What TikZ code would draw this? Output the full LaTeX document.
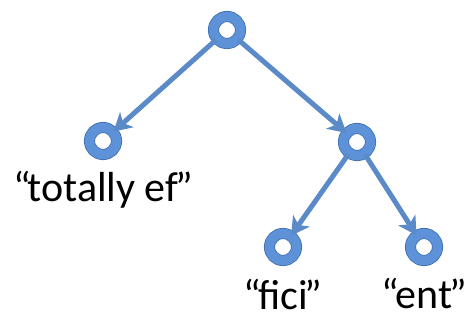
\documentclass[tikz,border=0pt]{standalone}
\usepackage{fontspec}
\setmainfont{Carlito}
\usetikzlibrary{arrows.meta}
\definecolor{ringblue}{HTML}{5E92D8}
\definecolor{ringdark}{HTML}{3F6FB0}
\definecolor{edgeblue}{HTML}{5A8AC8}
\newcommand{\openq}{“\kern-3pt}
\newcommand{\closeq}{\kern-3pt”}
\begin{document}
\begin{tikzpicture}[x=1pt,y=-1pt,line width=5pt]
  \tikzset{
    ring/.style={circle,draw=ringdark,line width=0.8pt,double=ringblue,double distance=9.5pt,fill=white,minimum size=27pt,inner sep=0pt},
    edge/.style={draw=edgeblue,-{Stealth[length=18pt,width=20pt,inset=5pt]},shorten <=1pt,shorten >=0pt},
    word/.style={font=\fontsize{42}{45}\selectfont}
  }
  \useasboundingbox (0,0) rectangle (476,320);

  \node[ring] at (227,30) (top){};
  \node[ring] at (103,141) (left){};
  \node[ring] at (357,142) (right){};
  \node[ring] at (283,247) (fici){};
  \node[ring] at (424,247) (ent){};

  \node[word] at (103,190) (ltext){\openq totally ef\closeq};
  \node[word] at (283,294) (ftext){\openq fici\closeq};
  \node[word] at (424,294) (etext){\openq ent\closeq};

  \draw[edge] (top) -- (left);
  \draw[edge] (top) -- (right);
  \draw[edge] (right) -- (fici);
  \draw[edge] (right) -- (ent);

\end{tikzpicture}
\end{document}
